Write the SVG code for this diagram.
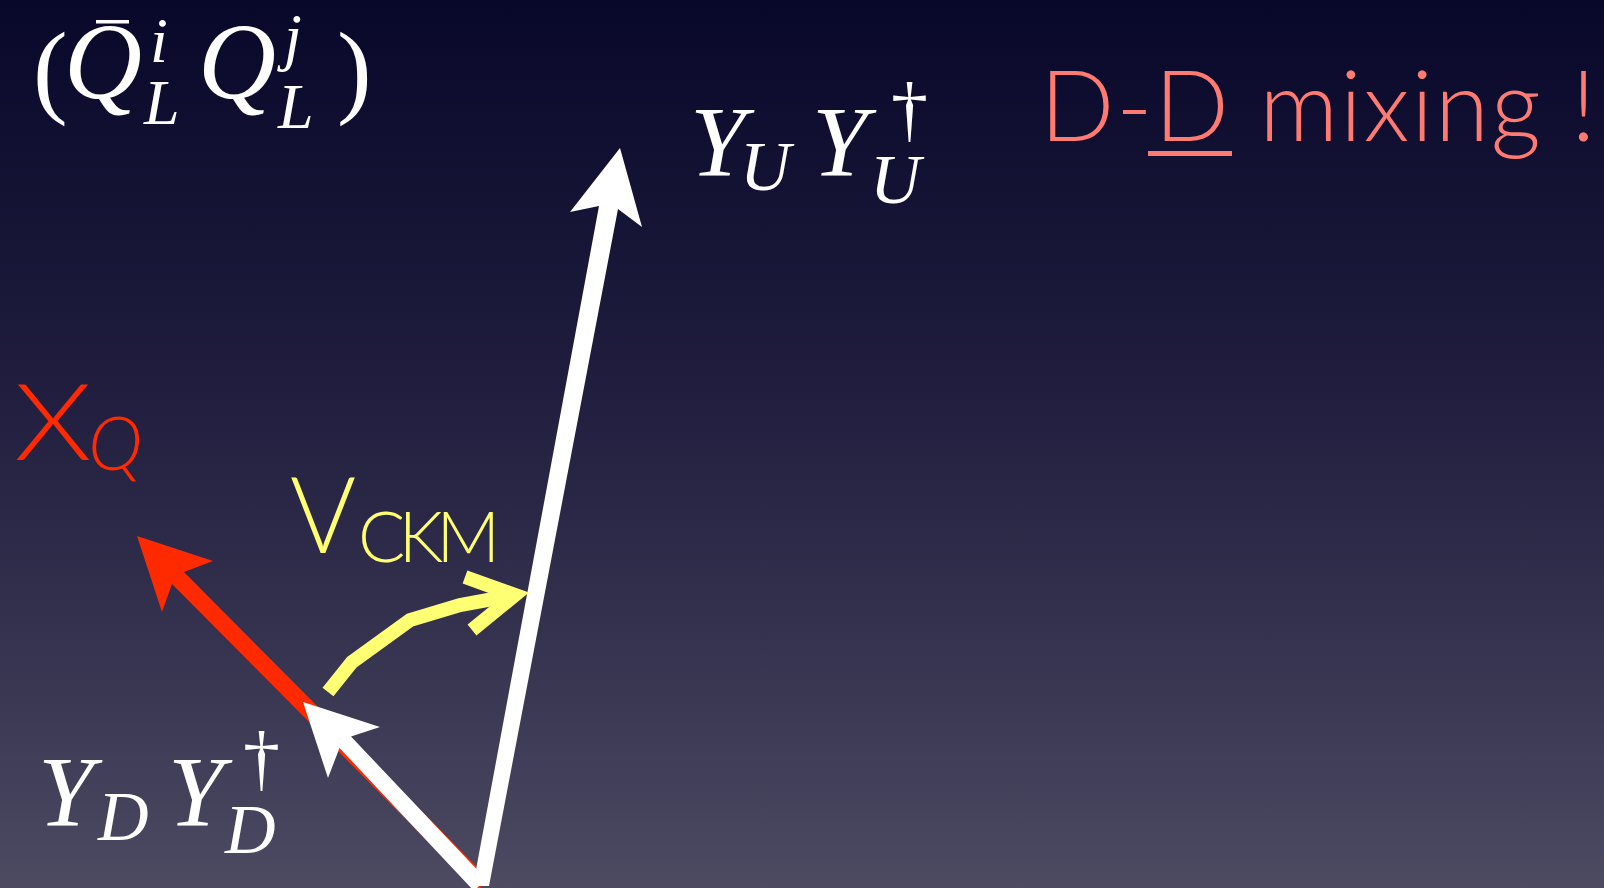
<svg xmlns="http://www.w3.org/2000/svg" width="1604" height="888" viewBox="0 0 1604 888">
<defs>
<linearGradient id="bg" x1="0" y1="0" x2="0" y2="1">
<stop offset="0" stop-color="#08082a"/>
<stop offset="0.45" stop-color="#211e3f"/>
<stop offset="0.8" stop-color="#3b3954"/>
<stop offset="1" stop-color="#4d4a62"/>
</linearGradient>
<style>
.m{font-family:"Liberation Serif","DejaVu Serif",serif;font-style:italic;fill:#ffffff}
.r{font-family:"Liberation Serif","DejaVu Serif",serif;fill:#ffffff}
.g{font-family:Lato,"Open Sans","Noto Sans",sans-serif;font-weight:300}
.yel{fill:none;stroke:#ffff73;stroke-width:14;stroke-linejoin:miter;stroke-linecap:butt}
</style>
</defs>
<rect x="0" y="0" width="1604" height="888" fill="url(#bg)"/>

<g id="label-QQ">
<text class="r" x="33" y="104" font-size="104">(</text>
<text class="m" x="64" y="98" font-size="108">Q</text>
<rect x="96" y="20" width="33" height="3.5" fill="#ffffff"/>
<text class="m" x="150" y="62" font-size="64">i</text>
<text class="m" x="144" y="124" font-size="64">L</text>
<text class="m" x="198" y="98" font-size="108">Q</text>
<text class="m" x="284" y="58" font-size="64">j</text>
<text class="m" x="278" y="128" font-size="64">L</text>
<text class="r" x="337" y="104" font-size="104">)</text>
</g>

<g id="label-YUYU">
<text class="m" x="690" y="175" font-size="100">Y</text>
<text class="m" x="740" y="190" font-size="70">U</text>
<text class="m" x="812" y="175" font-size="100">Y</text>
<text class="r" x="891" y="133" font-size="74">†</text>
<text class="m" x="870" y="203" font-size="70">U</text>
</g>

<g id="label-DDmixing">
<text class="g" x="1040" y="141" font-size="98" fill="#ff7b72" textLength="556">D-D mixing !</text>
<rect x="1148" y="151" width="84" height="5" fill="#ff7b72"/>
</g>

<g id="label-XQ">
<text class="g" x="14" y="460" font-size="106" fill="#ff2a00" textLength="78" lengthAdjust="spacingAndGlyphs">X</text>
<text class="g" x="88" y="470" font-size="74" font-style="italic" fill="#ff2a00">Q</text>
</g>

<g id="label-VCKM">
<text class="g" x="290" y="553" font-size="106" fill="#ffff73" textLength="66" lengthAdjust="spacingAndGlyphs">V</text>
<text class="g" x="358" y="562" font-size="70" fill="#ffff73" textLength="142">CKM</text>
</g>

<g id="label-YDYD">
<text class="m" x="38" y="825" font-size="100">Y</text>
<text class="m" x="98" y="840" font-size="70">D</text>
<text class="m" x="168" y="825" font-size="100">Y</text>
<text class="r" x="243" y="782" font-size="74">†</text>
<text class="m" x="225" y="853" font-size="70">D</text>
</g>

<g id="connectors">
<polygon id="arrow-XQ" fill="#ff2a00" points="137,536 213,561 184,572 489,879 477,891 172,584 162,612"/>
<polygon id="arrow-YD" fill="#ffffff" points="303,702 380,727 351,736.5 486,879 474,891 339.5,748 328,778"/>
<polygon id="arrow-YU" fill="#ffffff" points="473,886 599,206 570,212 620,148 642,227 618,209 489,886"/>
<g id="arrow-VCKM">
<polyline class="yel" points="328,692 352,662 410,620 460,605 515,595"/>
<polyline class="yel" points="465,577 515,595 472,630"/>
</g>
</g>
</svg>
